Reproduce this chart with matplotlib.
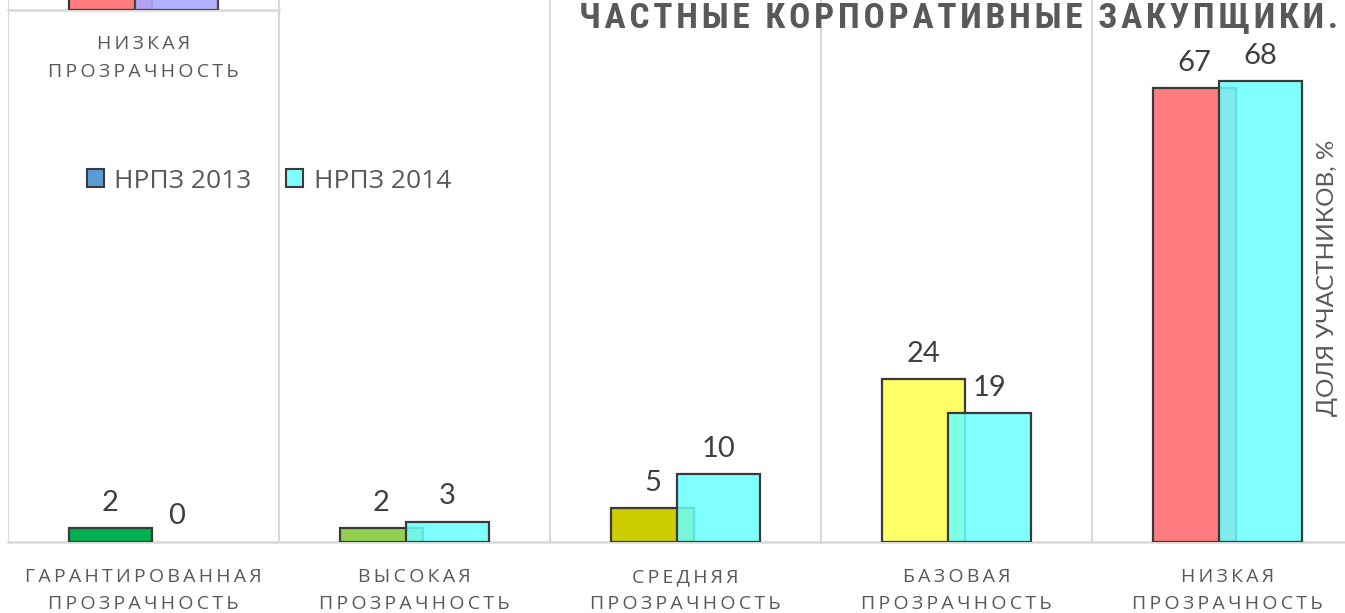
import numpy as np
import matplotlib
matplotlib.use("Agg")
import matplotlib.pyplot as plt
from matplotlib.patches import Patch
from matplotlib import font_manager as fm

# ---------------- data ----------------
categories = ["ГАРАНТИРОВАННАЯ\nПРОЗРАЧНОСТЬ", "ВЫСОКАЯ\nПРОЗРАЧНОСТЬ",
              "СРЕДНЯЯ\nПРОЗРАЧНОСТЬ", "БАЗОВАЯ\nПРОЗРАЧНОСТЬ",
              "НИЗКАЯ\nПРОЗРАЧНОСТЬ"]
values_2013 = [2, 2, 5, 24, 67]
values_2014 = [0, 3, 10, 19, 68]
colors_2013 = ["#00b050", "#92d050", "#cccc00", "#ffff66", "#ff7c80"]
color_2014 = (0.414, 1.0, 1.0, 0.85)   # shows as #80ffff over white
series_names = ["НРПЗ 2013", "НРПЗ 2014"]
legend_colors = ["#5b9bd5", "#80ffff"]
title = "ЧАСТНЫЕ КОРПОРАТИВНЫЕ ЗАКУПЩИКИ."
ylabel = "ДОЛЯ УЧАСТНИКОВ, %"

# fragment of the chart above (only its bottom is visible)
frag_category = ["НИЗКАЯ\nПРОЗРАЧНОСТЬ"]
frag_values_a = [60]
frag_values_b = [60]
frag_colors = ["#ff7c80", "#a9a9ff"]

# ---------------- fonts ----------------
names = {f.name for f in fm.fontManager.ttflist}
title_family = next((n for n in ["Roboto Condensed", "Liberation Sans Narrow",
                                 "Open Sans Condensed"] if n in names), "Roboto")
LABEL_FAM = ["Open Sans", "DejaVu Sans"]
NUM_FAM = ["Lato", "DejaVu Sans"]
GRAY = "#595959"
DARK = "#404040"
GRID = "#d9d9d9"


def spaced(s, sp="\u2009"):
    return "\n".join(sp.join(line) for line in s.split("\n"))


W, H = 1345, 613
fig = plt.figure(figsize=(W / 100, H / 100), dpi=100)
fig.patch.set_facecolor("white")

# ---------------- main axes ----------------
n = len(categories)
cat_px = 271.0
left_px = 8.0
base_px = 542.0
ax = fig.add_axes([left_px / W, (H - base_px) / H, n * cat_px / W, base_px / H])
ax.set_xlim(-0.5, n - 0.5)
ax.set_ylim(0, 80)
x = np.arange(n)
bw = 83 / cat_px
off = 33 / cat_px

lw13 = [1.6 if v > 0 else 0 for v in values_2013]
lw14 = [1.6 if v > 0 else 0 for v in values_2014]
b13 = ax.bar(x - off, values_2013, bw, color=colors_2013, edgecolor="#3a3a3a",
             linewidth=lw13, zorder=3)
b14 = ax.bar(x + off, values_2014, bw, color=color_2014,
             edgecolor="#3a3a3a", linewidth=lw14, zorder=4)

for bars, vals in ((b13, values_2013), (b14, values_2014)):
    for r, v in zip(bars, vals):
        ax.annotate(f"{v}", (r.get_x() + r.get_width() / 2, v),
                    xytext=(0, 9), textcoords="offset points",
                    ha="center", va="bottom", fontsize=21,
                    family=NUM_FAM, fontweight="normal", color=DARK, zorder=6)

for s in ("top", "left", "right"):
    ax.spines[s].set_visible(False)
ax.spines["bottom"].set_color(GRID)
ax.spines["bottom"].set_linewidth(1.8)
ax.set_yticks([])
ax.set_xticks(np.arange(n + 1) - 0.5, minor=True)
ax.grid(which="minor", axis="x", color=GRID, linewidth=1.5, zorder=0)
ax.set_xticks(x, [spaced(c) for c in categories])
ax.tick_params(axis="x", which="both", length=0, pad=19)
for t in ax.get_xticklabels():
    t.set_fontsize(14)
    t.set_family(LABEL_FAM)
    t.set_color(GRAY)
    t.set_linespacing(1.6)
ax.set_facecolor("none")

# legend
handles = [Patch(facecolor=c, edgecolor="#3a3a3a", linewidth=1.5) for c in legend_colors]
leg = fig.legend(handles, series_names, loc="center left",
                 bbox_to_anchor=(63 / W, 1 - 181 / H), ncol=2, frameon=False,
                 prop={"family": LABEL_FAM, "size": 19}, labelcolor=GRAY,
                 handlelength=0.65, handleheight=0.65, handletextpad=0.4,
                 columnspacing=1.3)

# y label on the right
fig.text(1328 / W, 1 - 278 / H, ylabel, rotation=90, ha="center", va="center",
         fontsize=17.5, family=NUM_FAM, fontweight="normal", color=GRAY)

# title
fig.text(1338 / W, 1 - 27 / H, spaced(title, "\u200a"), ha="right", va="baseline",
         fontsize=25.5, family=[title_family, "DejaVu Sans"], fontweight="bold",
         color=GRAY)

# ---------------- fragment axes at the top ----------------
fb = 10.0
ax2 = fig.add_axes([left_px / W, (H - fb) / H, cat_px / W, base_px / H])
ax2.set_xlim(-0.5, 0.5)
ax2.set_ylim(0, 80)
ax2.bar([-off], frag_values_a, bw, color=frag_colors[0], edgecolor="#3a3a3a",
        linewidth=1.6, zorder=3)
ax2.bar([off], frag_values_b, bw, color=frag_colors[1], edgecolor="#3a3a3a",
        linewidth=1.6, zorder=4, alpha=0.9)
for s in ("top", "left", "right"):
    ax2.spines[s].set_visible(False)
ax2.spines["bottom"].set_color(GRID)
ax2.spines["bottom"].set_linewidth(1.8)
ax2.set_yticks([])
ax2.set_xticks([0], [spaced(c) for c in frag_category])
ax2.tick_params(axis="x", length=0, pad=18)
for t in ax2.get_xticklabels():
    t.set_fontsize(14)
    t.set_family(LABEL_FAM)
    t.set_color(GRAY)
    t.set_linespacing(1.72)
ax2.set_facecolor("none")

fig.savefig("out.png", dpi=100)
